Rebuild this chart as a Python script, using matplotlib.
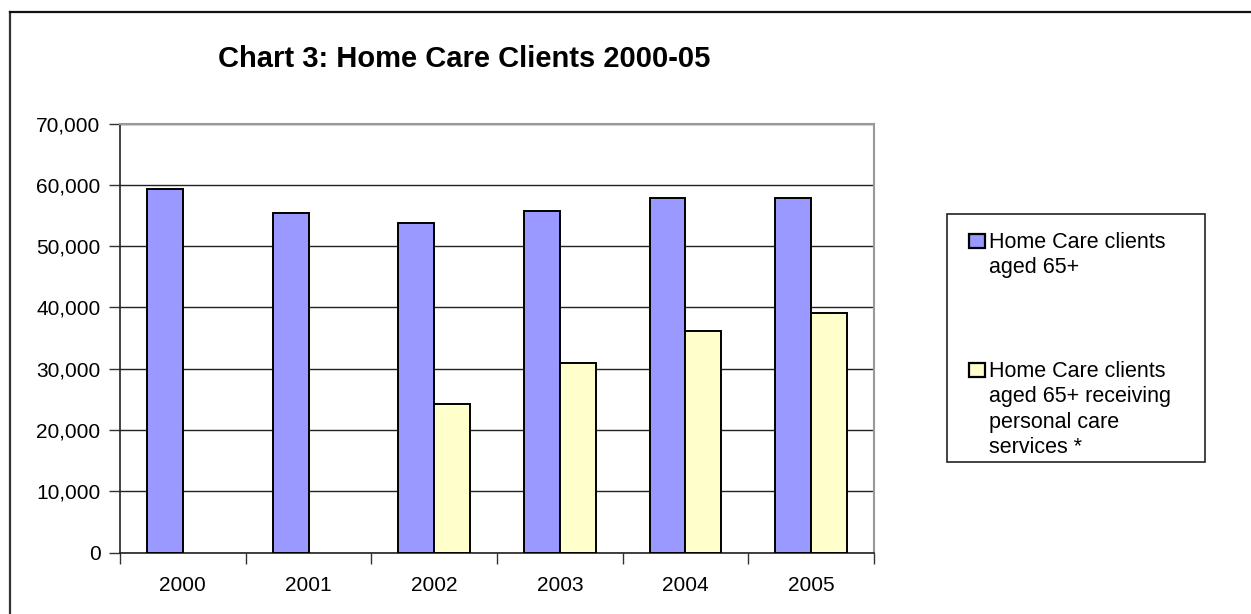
import matplotlib
matplotlib.use("Agg")
import matplotlib.pyplot as plt
from matplotlib.patches import Rectangle
from matplotlib.lines import Line2D
from matplotlib.ticker import FuncFormatter, FixedLocator
import numpy as np

plt.rcParams['font.family'] = ['Liberation Sans', 'DejaVu Sans']

years = ["2000", "2001", "2002", "2003", "2004", "2005"]
clients_65 = [59300, 55400, 53700, 55800, 57800, 57900]
clients_65_personal = [0, 0, 24200, 31000, 36200, 39100]
series_labels = ["Home Care clients\naged 65+",
                 "Home Care clients\naged 65+ receiving\npersonal care\nservices *"]
title = "Chart 3: Home Care Clients 2000-05"

W, H = 1251, 614
fig = plt.figure(figsize=(W / 100, H / 100), dpi=100)

def fx(px):
    return px / W

def fy(py):
    return 1 - py / H

ax = fig.add_axes([fx(120), fy(552.7), fx(874) - fx(120), fy(123.5) - fy(552.7)])

x = np.arange(len(years))
bw = 0.286
blue = "#9999FF"
yellow = "#FFFFCC"
ax.bar(x - bw / 2, clients_65, width=bw, color=blue, edgecolor="black", linewidth=1.4, zorder=3)
mask = [v > 0 for v in clients_65_personal]
ax.bar(x[mask] + bw / 2, np.array(clients_65_personal)[mask], width=bw, color=yellow,
       edgecolor="black", linewidth=1.4, zorder=3)

ax.set_xlim(-0.5, len(years) - 0.5)
ax.set_ylim(0, 70000)
ax.yaxis.set_major_locator(FixedLocator(np.arange(0, 70001, 10000)))
ax.yaxis.set_major_formatter(FuncFormatter(lambda v, p: f"{int(v):,}"))
ax.grid(axis="y", color="#222222", linewidth=1.0, zorder=0)
ax.set_axisbelow(True)

ax.set_xticks(x)
ax.set_xticklabels(years)
ax.tick_params(axis="x", which="major", length=0, pad=17, labelsize=15)
ax.set_xticks(np.arange(-0.5, len(years)), minor=True)
ax.tick_params(axis="x", which="minor", length=8, width=1, color="#333333", direction="out")
ax.tick_params(axis="y", length=8, width=1, color="#333333", direction="out", pad=6, labelsize=15)

for s in ["left", "bottom"]:
    ax.spines[s].set_color("#222222")
    ax.spines[s].set_linewidth(1.2)
for s in ["top", "right"]:
    ax.spines[s].set_color("#999999")
    ax.spines[s].set_linewidth(1.5)

fig.text(fx(218), fy(67), title, fontsize=21, fontweight="bold", ha="left", va="baseline")

# outer chart border (left and top visible)
fig.add_artist(Line2D([fx(10), fx(10)], [fy(12), 0], transform=fig.transFigure,
                      color="#333333", linewidth=1.6))
fig.add_artist(Line2D([fx(10), 1], [fy(12), fy(12)], transform=fig.transFigure,
                      color="#111111", linewidth=1.6))

# legend
fig.add_artist(Rectangle((fx(947), fy(462)), fx(1205) - fx(947), fy(214) - fy(462),
                         transform=fig.transFigure, facecolor="white", edgecolor="#222222",
                         linewidth=1.2))
leg_baselines = [248, 377]
line_step = 25.3
for lab, col, by in zip(series_labels, [blue, yellow], leg_baselines):
    fig.add_artist(Rectangle((fx(969), fy(by)), fx(16), 14 / H,
                             transform=fig.transFigure, facecolor=col, edgecolor="black",
                             linewidth=1.6))
    for i, line in enumerate(lab.split("\n")):
        fig.text(fx(989), fy(by + i * line_step), line, fontsize=15.5, ha="left", va="baseline")

fig.savefig("out.png", dpi=100)
